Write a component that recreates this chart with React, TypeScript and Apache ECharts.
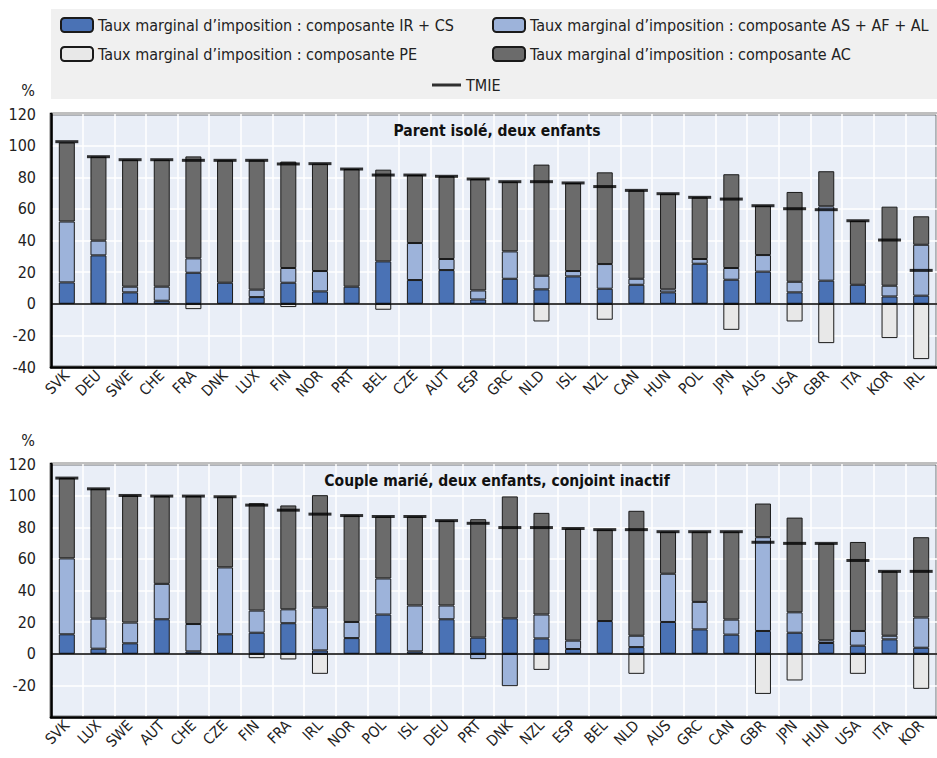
import React, { useEffect, useRef } from "react";
import * as echarts from "echarts";

const FONT = "'Liberation Sans Narrow', 'Arial Narrow', 'DejaVu Sans Condensed', 'Roboto', sans-serif";

const NAME_IR = "Taux marginal d\u2019imposition : composante IR + CS";
const NAME_AS = "Taux marginal d\u2019imposition : composante AS + AF + AL";
const NAME_PE = "Taux marginal d\u2019imposition : composante PE";
const NAME_AC = "Taux marginal d\u2019imposition : composante AC";
const NAME_TMIE = "TMIE";

const TITLE_TOP = "Parent isolé, deux enfants";
const TITLE_BOT = "Couple marié, deux enfants, conjoint inactif";

const catsTop = ["SVK", "DEU", "SWE", "CHE", "FRA", "DNK", "LUX", "FIN", "NOR", "PRT", "BEL", "CZE", "AUT", "ESP", "GRC", "NLD", "ISL", "NZL", "CAN", "HUN", "POL", "JPN", "AUS", "USA", "GBR", "ITA", "KOR", "IRL"];
const irTop = [13.5, 30.6, 7.2, 1.9, 19.6, 13.3, 4.2, 13.3, 7.8, 10.8, 26.8, 15.0, 21.3, 2.7, 15.8, 9.1, 17.3, 9.5, 12.0, 7.2, 25.3, 15.2, 20.3, 7.2, 14.6, 12.0, 4.6, 5.1];
const asTop = [38.5, 9.3, 3.6, 8.9, 9.1, null, 4.7, 9.3, 12.9, null, null, 23.4, 7.0, 5.7, 17.3, 8.6, 3.4, 15.6, 3.8, 1.9, 3.0, 7.4, 10.5, 6.7, 47.0, null, 6.8, 32.2];
const peTop = [null, null, null, null, -3.4, null, null, -2.1, null, null, -3.8, null, null, null, null, -11.2, null, -10.1, null, null, null, -16.5, null, -11.2, -24.9, null, -21.7, -35.0];
const acTop = [50.0, 53.1, 80.3, 80.3, 64.5, 77.4, 81.8, 67.3, 67.9, 74.4, 58.0, 43.0, 52.3, 70.5, 44.1, 70.3, 55.7, 58.0, 55.9, 60.5, 39.0, 59.3, 31.2, 56.8, 22.2, 40.5, 50.0, 18.0];
const tmieTop = [102.5, 93.0, 91.1, 91.1, 90.7, 90.7, 90.7, 88.4, 88.6, 85.2, 81.4, 81.4, 80.6, 78.9, 77.2, 77.2, 76.4, 74.1, 71.7, 69.6, 67.3, 66.2, 62.0, 60.1, 59.5, 52.5, 40.3, 21.1];

const catsBot = ["SVK", "LUX", "SWE", "AUT", "CHE", "CZE", "FIN", "FRA", "IRL", "NOR", "POL", "ISL", "DEU", "PRT", "DNK", "NZL", "ESP", "BEL", "NLD", "AUS", "GRC", "CAN", "GBR", "JPN", "HUN", "USA", "ITA", "KOR"];
const irBot = [12.3, 3.2, 6.6, 21.8, 1.5, 12.3, 13.3, 19.3, 2.1, 9.9, 24.8, 1.5, 21.8, 10.2, 22.4, 9.7, 3.0, 20.7, 4.2, 20.1, 15.4, 12.1, 14.4, 13.3, 6.8, 5.1, 9.1, 3.8];
const asBot = [48.0, 19.0, 13.1, 22.4, 17.3, 42.3, 14.0, 8.8, 27.1, 10.2, 22.8, 29.0, 8.7, -3.4, -20.5, 15.1, 5.3, null, 7.2, 30.5, 17.4, 9.5, 59.3, 12.9, 1.7, 9.3, 2.3, 19.1];
const peBot = [null, null, null, null, null, null, -2.8, -3.6, -12.7, null, null, null, null, null, null, -10.2, null, null, -12.7, null, null, null, -25.4, -16.9, null, -12.7, null, -22.2];
const acBot = [50.8, 82.1, 80.4, 55.5, 80.9, 44.7, 67.9, 65.7, 71.1, 67.3, 39.2, 56.3, 53.7, 74.9, 77.1, 64.3, 70.9, 57.8, 79.0, 26.6, 44.4, 55.6, 21.3, 59.9, 61.3, 56.3, 40.7, 50.8];
const tmieBot = [111.1, 104.3, 100.1, 99.7, 99.7, 99.3, 94.0, 90.8, 88.3, 87.4, 86.8, 86.8, 84.2, 82.5, 79.8, 79.8, 79.2, 78.5, 78.5, 77.2, 77.2, 77.2, 70.5, 69.8, 69.8, 59.0, 52.1, 52.1];

const C_IR = "#4a72b5";
const C_AS = "#9db3da";
const C_PE = "#e8e8e8";
const C_AC = "#6b6b6b";

export default function App() {
  const ref = useRef<HTMLDivElement>(null);

  useEffect(() => {
    document.body.style.margin = "0";
    if (!ref.current) return;
    const chart = echarts.init(ref.current, undefined, { renderer: "svg" });

    const grids = [
      { left: 51, top: 114, width: 892, height: 253 },
      { left: 51, top: 464, width: 892, height: 253 },
    ];

    const mkX = (idx: number, data: string[]) => ({
      type: "category",
      gridIndex: idx,
      data,
      axisLine: { onZero: false, lineStyle: { color: "#000", width: 2.5 } },
      axisTick: { inside: true, length: 7, lineStyle: { color: "#444", width: 1 } },
      splitLine: { show: true, lineStyle: { color: "#ffffff", width: 1.5 } },
      axisLabel: { rotate: 45, interval: 0, fontSize: 15, color: "#222", margin: 6, fontFamily: FONT },
    });
    const mkY = (idx: number, showMin: boolean) => ({
      type: "value",
      gridIndex: idx,
      min: -40,
      max: 120,
      interval: 20,
      axisLine: { show: true, lineStyle: { color: "#000", width: 2.5 } },
      axisTick: { show: false },
      splitLine: { show: true, lineStyle: { color: "#ffffff", width: 1.5 } },
      axisLabel: { fontSize: 16, color: "#222", margin: 15, fontFamily: FONT, showMinLabel: showMin },
    });

    const barStyle = (color: string) => ({ color, borderColor: "#1a1a1a", borderWidth: 1 });

    const mkBars = (idx: number, ir: any[], as: any[], pe: any[], ac: any[], tmie: number[]) => [
      {
        name: NAME_IR, type: "bar", xAxisIndex: idx, yAxisIndex: idx, stack: "s" + idx, barWidth: 16,
        data: ir, itemStyle: barStyle(C_IR),
        markLine: {
          silent: true, symbol: "none", label: { show: false },
          lineStyle: { color: "#000", width: 1.5, type: "solid" },
          data: [{ yAxis: 0 }], z: 5,
        },
      },
      { name: NAME_AS, type: "bar", xAxisIndex: idx, yAxisIndex: idx, stack: "s" + idx, barWidth: 16, data: as, itemStyle: barStyle(C_AS) },
      { name: NAME_PE, type: "bar", xAxisIndex: idx, yAxisIndex: idx, stack: "s" + idx, barWidth: 16, data: pe, itemStyle: barStyle(C_PE) },
      { name: NAME_AC, type: "bar", xAxisIndex: idx, yAxisIndex: idx, stack: "s" + idx, barWidth: 16, data: ac, itemStyle: barStyle(C_AC) },
      {
        name: NAME_TMIE, type: "scatter", xAxisIndex: idx, yAxisIndex: idx, z: 10,
        symbol: "rect", symbolSize: [23, 3], data: tmie, itemStyle: { color: "#000" },
      },
    ];

    const legendCommon = {
      orient: "horizontal",
      padding: 0,
      itemGap: 0,
      itemWidth: 32,
      itemHeight: 14,
      selectedMode: false,
      textStyle: { fontSize: 16, color: "#222", fontFamily: FONT },
    };

    const option: any = {
      animation: false,
      backgroundColor: "#ffffff",
      grid: grids.map((g) => ({ ...g, show: true, backgroundColor: "#e9eef7", borderColor: "#000", borderWidth: 2.5 })),
      xAxis: [mkX(0, catsTop), mkX(1, catsBot)],
      yAxis: [mkY(0, true), mkY(1, false)],
      legend: [
        { ...legendCommon, data: [NAME_IR], left: 60, top: 17 },
        { ...legendCommon, data: [NAME_AS], left: 492, top: 17 },
        { ...legendCommon, data: [NAME_PE], left: 60, top: 46 },
        { ...legendCommon, data: [NAME_AC], left: 492, top: 46 },
        { ...legendCommon, data: [{ name: NAME_TMIE, icon: "rect" }], left: 432, top: 77, itemWidth: 29, itemHeight: 3, itemStyle: { borderWidth: 0 } },
      ],
      graphic: [
        { type: "rect", z: -10, shape: { x: 51, y: 9, width: 886, height: 90 }, style: { fill: "#f0f0f0" } },
        { type: "text", x: 28, y: 90, style: { text: "%", fontSize: 16, fill: "#222", fontFamily: FONT, textAlign: "center", textVerticalAlign: "middle" } },
        { type: "text", x: 28, y: 440, style: { text: "%", fontSize: 16, fill: "#222", fontFamily: FONT, textAlign: "center", textVerticalAlign: "middle" } },
        { type: "text", z: 20, x: 497, y: 131, style: { text: TITLE_TOP, fontSize: 15.5, fontWeight: "bold", fill: "#111", fontFamily: FONT, textAlign: "center", textVerticalAlign: "middle" } },
        { type: "text", z: 20, x: 497, y: 481, style: { text: TITLE_BOT, fontSize: 15.5, fontWeight: "bold", fill: "#111", fontFamily: FONT, textAlign: "center", textVerticalAlign: "middle" } },
      ],
      series: [
        ...mkBars(0, irTop, asTop, peTop, acTop, tmieTop),
        ...mkBars(1, irBot, asBot, peBot, acBot, tmieBot),
      ],
    };

    chart.setOption(option);
    return () => chart.dispose();
  }, []);

  return <div ref={ref} style={{ width: 937, height: 758 }} />;
}
